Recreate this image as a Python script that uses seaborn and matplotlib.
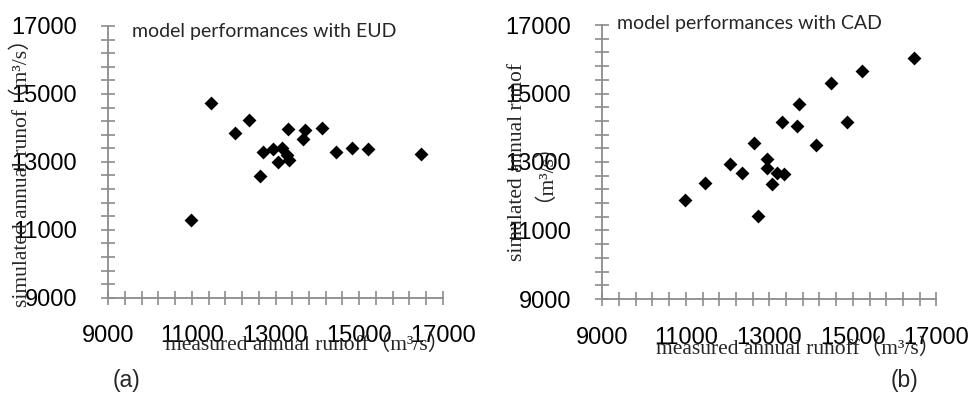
import matplotlib
matplotlib.use("Agg")
import matplotlib.pyplot as plt
import seaborn as sns
import pandas as pd
from matplotlib.ticker import MultipleLocator

# ---- data ----
measured_eud = [10980, 11450, 12040, 12360, 12640, 12710, 12940, 13050, 13160, 13270,
                13320, 13300, 13660, 13710, 14110, 14450, 14840, 15210, 16470]
simulated_eud = [11290, 14720, 13840, 14230, 12580, 13300, 13370, 13000, 13400, 13200,
                 13060, 13960, 13660, 13940, 14010, 13280, 13400, 13380, 13230]

measured_cad = [10980, 11460, 12060, 12350, 12630, 12730, 12950, 12950, 13060, 13180,
                13350, 13300, 13660, 13700, 14120, 14470, 14870, 15220, 16470]
simulated_cad = [11880, 12400, 12930, 12670, 13560, 11430, 13080, 12820, 12370, 12670,
                 12640, 14180, 14050, 14700, 13510, 15320, 14180, 15660, 16030]

axis_min, axis_max = 9000, 17000
major_step, minor_step = 2000, 400
titles = ["model performances with EUD", "model performances with CAD"]
panel_tags = ["(a)", "(b)"]
xlabel_text = "measured annual runoff（m³/s）"
ylabel_left = "simulated annual runof（m³/s）"
ylabel_right = "simulated annual runof\n（m³/s）"

sns.set_style("white")
plt.rcParams["font.family"] = ["Liberation Sans", "DejaVu Sans"]

W, H = 968, 394
fig = plt.figure(figsize=(W / 100, H / 100), dpi=100)

def fx(px):
    return px / W

def fy(py):
    return 1 - py / H

# axes rectangles in pixels: (left, top, right, bottom)
rects = [(108.3, 26.0, 442.7, 297.7), (602.3, 25.0, 936.3, 299.0)]
axes = []
for (l, t, r, b) in rects:
    ax = fig.add_axes([fx(l), fy(b), fx(r) - fx(l), (b - t) / H])
    axes.append(ax)

serif = ["Liberation Serif", "Noto Sans CJK SC", "DejaVu Serif"]
gray = "#8c8c8c"

datasets = [(measured_eud, simulated_eud), (measured_cad, simulated_cad)]
for i, ax in enumerate(axes):
    mx, sy = datasets[i]
    df = pd.DataFrame({"measured": mx, "simulated": sy})
    sns.scatterplot(data=df, x="measured", y="simulated", ax=ax, marker="D",
                    color="black", s=50, linewidth=0, zorder=3, clip_on=False)
    ax.set_xlim(axis_min, axis_max)
    ax.set_ylim(axis_min, axis_max)
    for axis in (ax.xaxis, ax.yaxis):
        axis.set_major_locator(MultipleLocator(major_step, offset=axis_min % major_step))
        axis.set_minor_locator(MultipleLocator(minor_step, offset=axis_min % minor_step))
    for s in ["top", "right"]:
        ax.spines[s].set_visible(False)
    for s in ["left", "bottom"]:
        ax.spines[s].set_color(gray)
        ax.spines[s].set_linewidth(1.3)
    ax.tick_params(axis="both", which="both", direction="inout", length=10,
                   width=1.2, color=gray, labelsize=17, labelcolor="black")
    ax.tick_params(axis="y", which="both", pad=17.5)
    ax.tick_params(axis="x", which="both", pad=15)
    ax.tick_params(axis="both", which="both", left=True, bottom=True)
    ax.grid(False)
    ax.set_facecolor("white")

    ax.set_xlabel(xlabel_text, fontsize=15.5, family=serif, va="baseline")
    ax.set_ylabel(ylabel_left if i == 0 else ylabel_right, fontsize=15.5,
                  family=serif, va="center", ha="center", linespacing=0.75)

axes[0].xaxis.set_label_coords(0.595, -0.1925)
axes[1].xaxis.set_label_coords(0.585, -0.20)
axes[0].yaxis.set_label_coords(-0.26, 0.48)
axes[1].yaxis.set_label_coords(-0.228, 0.50)

axes[0].text(0.071, 0.978, titles[0], transform=axes[0].transAxes, fontsize=14,
             family=["Lato", "DejaVu Sans"], ha="left", va="center")
axes[1].text(0.044, 1.007, titles[1], transform=axes[1].transAxes, fontsize=14,
             family=["Lato", "DejaVu Sans"], ha="left", va="center")

fig.text(fx(126), fy(380), panel_tags[0], fontsize=16.5, ha="center", va="center")
fig.text(fx(905), fy(380), panel_tags[1], fontsize=16.5, ha="center", va="center")

fig.savefig("out.png", dpi=100, facecolor="white")
